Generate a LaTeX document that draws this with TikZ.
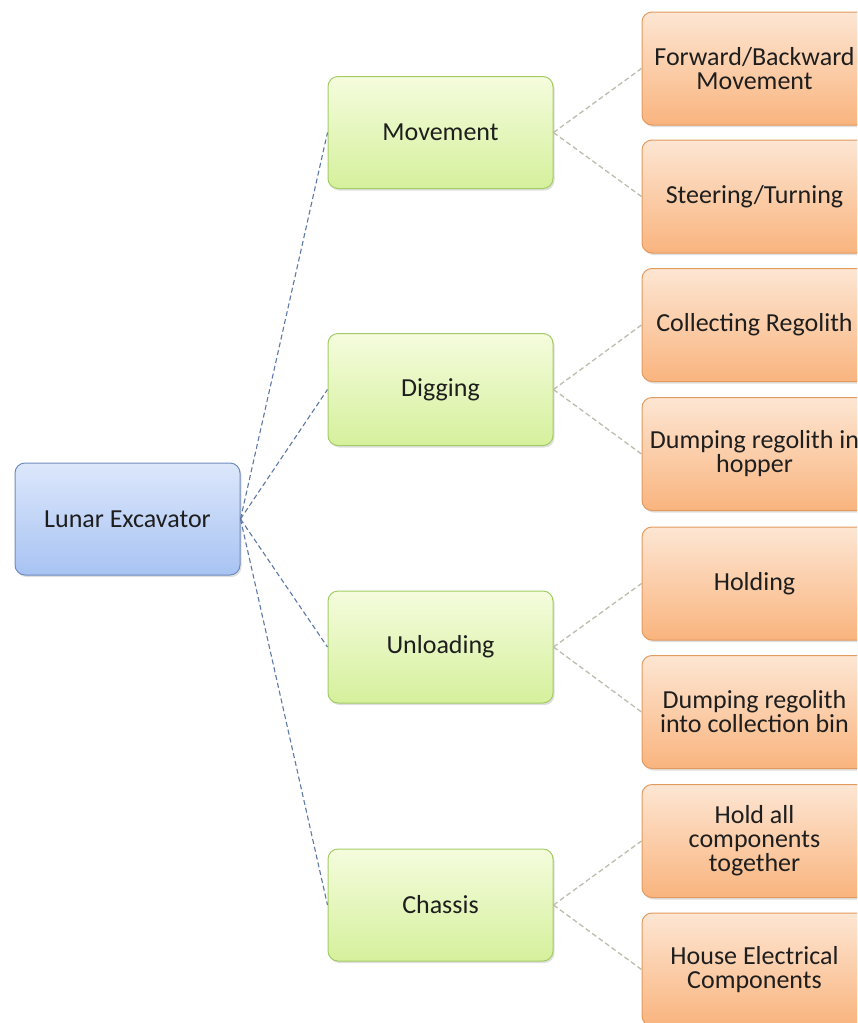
\documentclass[tikz,border=0pt]{standalone}
\usepackage{fontspec}
\setmainfont{Carlito}
\usetikzlibrary{shadows}
\definecolor{rootTop}{HTML}{DCE7FB}
\definecolor{rootBot}{HTML}{A8C3F3}
\definecolor{rootLine}{HTML}{6F8CC0}
\definecolor{grTop}{HTML}{F5FCDD}
\definecolor{grBot}{HTML}{D5F09C}
\definecolor{grLine}{HTML}{A3CC66}
\definecolor{orTop}{HTML}{FDE6D3}
\definecolor{orBot}{HTML}{F9B47E}
\definecolor{orLine}{HTML}{E39A5E}
\definecolor{blueDash}{HTML}{5E78A8}
\definecolor{grayDash}{HTML}{BDBDAE}
\definecolor{txt}{HTML}{1E1E1E}
\tikzset{
  box/.style={rounded corners=10pt, minimum width=225pt, minimum height=112pt,
    align=center, text=txt, line width=1pt, inner xsep=0pt,
    font=\fontsize{26}{24}\selectfont,
    drop shadow={opacity=0.25, shadow xshift=1.5pt, shadow yshift=-2pt}},
  rootbox/.style={box, draw=rootLine, top color=rootTop, bottom color=rootBot},
  midbox/.style={box, draw=grLine, top color=grTop, bottom color=grBot},
  leafbox/.style={box, minimum height=113pt, draw=orLine, top color=orTop, bottom color=orBot},
  blink/.style={draw=blueDash, dashed, dash pattern=on 5pt off 3pt, line width=1.1pt},
  glink/.style={draw=grayDash, dashed, dash pattern=on 5pt off 3pt, line width=1.3pt}
}
\begin{document}
\begin{tikzpicture}[x=1pt, y=-1pt]
\useasboundingbox (0,0) rectangle (857,1023);
\clip (0,0) rectangle (857,1023);
\fill[white] (0,0) rectangle (857,1023);

\node[rootbox] (root) at (127.5,519) {Lunar Excavator};

\node[midbox] (mov) at (440.5,132.5) {Movement};
\node[midbox] (dig) at (440.5,389.5) {Digging};
\node[midbox] (unl) at (440.5,647) {Unloading};
\node[midbox] (cha) at (440.5,905) {Chassis};

\node[leafbox] (l1) at (754.5,68.5) {Forward/Backward\\Movement};
\node[leafbox] (l2) at (754.5,196.5) {Steering/Turning};
\node[leafbox] (l3) at (754.5,325) {Collecting Regolith};
\node[leafbox] (l4) at (754.5,454) {Dumping regolith in\\hopper};
\node[leafbox] (l5) at (754.5,583.5) {Holding};
\node[leafbox] (l6) at (754.5,712) {Dumping regolith\\into collection bin};
\node[leafbox] (l7) at (754.5,841) {Hold all\\components\\together};
\node[leafbox] (l8) at (754.5,969.5) {House Electrical\\Components};

\path[blink] (root.east) -- (mov.west);
\path[blink] (root.east) -- (dig.west);
\path[blink] (root.east) -- (unl.west);
\path[blink] (root.east) -- (cha.west);

\path[glink] (mov.east) -- (l1.west);
\path[glink] (mov.east) -- (l2.west);
\path[glink] (dig.east) -- (l3.west);
\path[glink] (dig.east) -- (l4.west);
\path[glink] (unl.east) -- (l5.west);
\path[glink] (unl.east) -- (l6.west);
\path[glink] (cha.east) -- (l7.west);
\path[glink] (cha.east) -- (l8.west);
\end{tikzpicture}
\end{document}
